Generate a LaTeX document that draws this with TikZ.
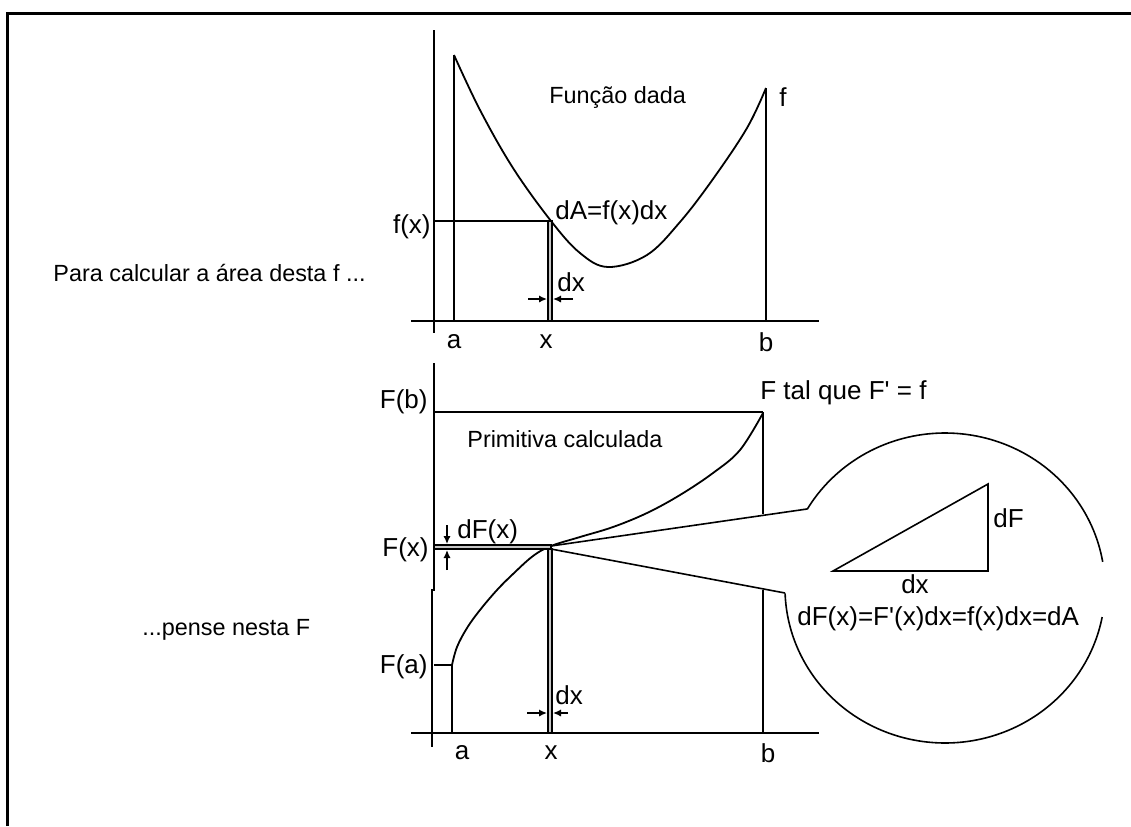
\documentclass[tikz,border=0pt]{standalone}
\usepackage{fontspec}
\setmainfont{Liberation Sans}
\newfontfamily\aposfont{Liberation Sans}
\usetikzlibrary{arrows.meta}
\begin{document}
\begin{tikzpicture}[x=0.5pt,y=-0.5pt,
  axisline/.style={line width=1pt},
  curveline/.style={line width=0.9pt},
  thinline/.style={line width=0.8pt},
  lbl/.style={inner sep=0pt, font=\fontsize{13}{15}\selectfont},
  txt/.style={inner sep=0pt, font=\fontsize{11.7}{14}\selectfont},
  darr/.style={line width=0.7pt, -{Latex[length=4pt,width=3.6pt]}},
  stripbox/.style={fill=gray!45, draw=black, line width=0.6pt}]
\useasboundingbox (0,0) rectangle (1131,826);
% frame
\draw[line width=1.5pt] (7,826) -- (7,13) -- (1131,13);

% ---------------- top graph ----------------
\coordinate (ty0) at (434,30);
\coordinate (ty1) at (434,333);
\coordinate (tx0) at (411,321);
\coordinate (tx1) at (819,321);
\draw[axisline] (ty0) -- (ty1);
\draw[axisline] (tx0) -- (tx1);
\coordinate (ta0) at (454,321);
\coordinate (ta1) at (454,55);
\coordinate (tb0) at (766,321);
\coordinate (tb1) at (766,88);
\draw[axisline] (ta0) -- (ta1);
\draw[axisline] (tb0) -- (tb1);
\draw[curveline] plot[smooth, tension=0.6] coordinates {(454,55) (480,110) (513,168) (551,221) (580,253) (608,267) (647,255) (680,222) (713,179) (747,128) (766,88)};
\coordinate (tfx) at (434,221);
\coordinate (tP) at (551,221);
\draw[thinline] (tfx) -- (tP);
\draw[stripbox] (548,221) rectangle (552,321);
\coordinate (tdl0) at (528,299);
\coordinate (tdl1) at (547,299);
\coordinate (tdr0) at (573,299);
\coordinate (tdr1) at (553,299);
\draw[darr] (tdl0) -- (tdl1);
\draw[darr] (tdr0) -- (tdr1);

\node[lbl, anchor=east] (lfx) at (431,227) {f(x)};
\node[lbl, anchor=west] (ldA) at (555,213) {dA=f(x)dx};
\node[lbl, anchor=west] (ldx1) at (557,282) {dx};
\node[txt, anchor=west] (lfd) at (549,97) {Função dada};
\node[lbl, anchor=west] (lf) at (779,97) {f};
\node[lbl] (la1) at (454,342) {a};
\node[lbl] (lx1) at (546,342) {x};
\node[lbl] (lb1) at (766,342) {b};
\node[txt, anchor=west] (lpara) at (53,273) {Para calcular a área desta f ...};

% ---------------- bottom graph ----------------
\draw[axisline] (434,363) -- (434,590) -- (432,590) -- (432,747);
\coordinate (bx0) at (411,733);
\coordinate (bx1) at (819,733);
\draw[axisline] (bx0) -- (bx1);
\coordinate (Fb0) at (434,412);
\coordinate (Fb1) at (763,412);
\draw[axisline] (Fb0) -- (Fb1);
\draw[axisline] (763,412) -- (763,514);
\draw[axisline] (763,590) -- (763,733);
\coordinate (Fa0) at (434,665);
\coordinate (Fa1) at (452,665);
\draw[axisline] (Fa0) -- (Fa1) -- (452,733);
\draw[curveline] plot[smooth, tension=0.6] coordinates {(452,665) (457,647) (467,628) (480,610) (497,590) (513,574) (533,556) (551,546) (580,537) (613,527) (647,513) (680,495) (713,473) (740,450) (763,413)};
\draw[stripbox] (434,545) rectangle (551,549);
\draw[stripbox] (548,549) rectangle (552,733);
% tangent wedge
\coordinate (Px) at (551,546);
\coordinate (Px2) at (551,549);
\coordinate (wu) at (807,509);
\coordinate (wl) at (785,593);
\draw[thinline] (Px) -- (wu);
\draw[thinline] (Px2) -- (wl);
% magnifier
\draw[thinline] plot[domain=9.7:149.5, samples=80] ({945+160*cos(\x)},{588-155*sin(\x)});
\draw[thinline] plot[domain=-178:-10.8, samples=120] ({945+160*cos(\x)},{588-155*sin(\x)});
\coordinate (t1) at (833,571);
\coordinate (t2) at (988,571);
\coordinate (t3) at (988,484);
\draw[thinline] (t1) -- (t2) -- (t3) -- cycle;
% dF arrows
\coordinate (dfa0) at (447,525);
\coordinate (dfa1) at (447,544);
\coordinate (dfb0) at (447,570);
\coordinate (dfb1) at (447,550);
\draw[darr] (dfa0) -- (dfa1);
\draw[darr] (dfb0) -- (dfb1);
% dx arrows
\coordinate (bdl0) at (527,713);
\coordinate (bdl1) at (547,713);
\coordinate (bdr0) at (568,713);
\coordinate (bdr1) at (553,713);
\draw[darr] (bdl0) -- (bdl1);
\draw[darr] (bdr0) -- (bdr1);

\node[lbl, anchor=east] (lFb) at (428,402) {F(b)};
\node[txt, anchor=west] (lprim) at (467,439) {Primitiva calculada};
\node[lbl, anchor=west] (lFtal) at (760,393) {F tal que F{\aposfont'} = f};
\node[lbl, anchor=west] (ldF) at (457,532) {dF(x)};
\node[lbl, anchor=east] (lFx) at (429,550) {F(x)};
\node[lbl, anchor=east] (lFa) at (428,667) {F(a)};
\node[lbl, anchor=west] (ldx2) at (555,695) {dx};
\node[lbl] (la2) at (462,753) {a};
\node[lbl] (lx2) at (551,753) {x};
\node[lbl] (lb2) at (768,753) {b};
\node[lbl, anchor=west] (ldF2) at (993,518) {dF};
\node[lbl] (ldx3) at (915,584) {dx};
\node[lbl, anchor=west] (lform) at (797,619) {dF(x)=F{\aposfont'}(x)dx=f(x)dx=dA};
\node[txt, anchor=west] (lpense) at (142,630) {...pense nesta F};
\end{tikzpicture}
\end{document}
